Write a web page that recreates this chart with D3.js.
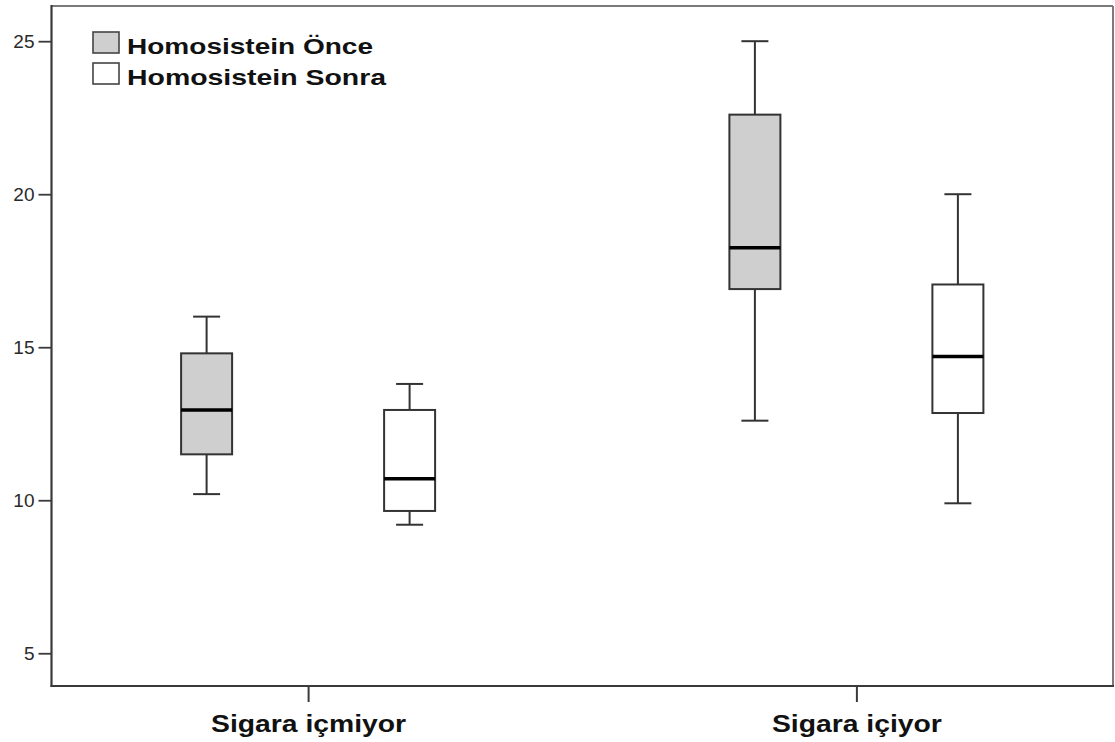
<!DOCTYPE html>
<html>
<head>
<meta charset="utf-8">
<script src="https://cdn.jsdelivr.net/npm/d3@7"></script>
<style>
  html, body { margin: 0; padding: 0; background: #fff; }
  svg { display: block; }
  text { font-family: "Liberation Sans", Arial, sans-serif; }
</style>
</head>
<body>
<svg id="chart" width="1115" height="742"></svg>
<script>
// Groups on the x axis
const categories = ["Sigara içmiyor", "Sigara içiyor"];
// Two measurements per group
const series = ["Homosistein Önce", "Homosistein Sonra"];
const seriesFill = ["#cfcfcf", "#ffffff"];
// Five-number summaries: [min, Q1, median, Q3, max]
const onceStats  = [[10.2, 11.5, 12.95, 14.8, 16.0], [12.6, 16.9, 18.25, 22.6, 25.0]];
const sonraStats = [[9.2, 9.65, 10.7, 12.95, 13.8], [9.9, 12.85, 14.7, 17.05, 20.0]];
const yTicks = [5, 10, 15, 20, 25];

(function draw() {
  const svg = d3.select("#chart");
  const pLeft = 51.5, pRight = 1113, pTop = 6, pBottom = 686;

  const y = d3.scaleLinear().domain([3.93, 26.15]).range([pBottom, pTop]);
  const x = d3.scalePoint().domain(categories).range([pLeft, pRight]).padding(0.468);
  const xs = d3.scalePoint().domain(series).range([-101.5, 101.5]);
  const boxW = 51, capW = 27;

  // Frame: top and right edges lighter
  svg.append("line").attr("x1", pLeft).attr("x2", pRight).attr("y1", pTop).attr("y2", pTop)
    .attr("stroke", "#7a7a7a").attr("stroke-width", 2);
  svg.append("line").attr("x1", pRight).attr("x2", pRight).attr("y1", pTop).attr("y2", pBottom)
    .attr("stroke", "#7a7a7a").attr("stroke-width", 2);

  // Y axis
  const yAxis = d3.axisLeft(y).tickValues(yTicks).tickSize(13).tickPadding(4).tickFormat(d3.format("d"));
  const gy = svg.append("g").attr("transform", `translate(${pLeft},0)`).call(yAxis);
  gy.select(".domain").remove();
  gy.append("line").attr("x1", 0).attr("x2", 0).attr("y1", pTop - 1).attr("y2", pBottom + 1)
    .attr("stroke", "#3a3a3a").attr("stroke-width", 2.2);
  gy.selectAll(".tick line").attr("stroke", "#3a3a3a").attr("stroke-width", 1.8);
  gy.selectAll(".tick text").attr("font-size", 19).attr("fill", "#2a2a2a")
    .attr("font-family", "'Liberation Sans', Arial, sans-serif");

  // X axis
  const labelLen = { "Sigara içmiyor": 195, "Sigara içiyor": 170 };
  const xAxis = d3.axisBottom(x).tickSize(16).tickPadding(6);
  const gx = svg.append("g").attr("transform", `translate(0,${pBottom})`).call(xAxis);
  gx.select(".domain").remove();
  gx.append("line").attr("x1", pLeft - 1).attr("x2", pRight + 1).attr("y1", 0).attr("y2", 0)
    .attr("stroke", "#3a3a3a").attr("stroke-width", 2.2);
  gx.selectAll(".tick line").attr("stroke", "#3a3a3a").attr("stroke-width", 2);
  gx.selectAll(".tick text").attr("font-size", 23).attr("font-weight", "bold").attr("fill", "#111")
    .attr("font-family", "'Liberation Sans', Arial, sans-serif")
    .attr("dy", "1.05em")
    .attr("textLength", d => labelLen[d]).attr("lengthAdjust", "spacingAndGlyphs");

  // Boxes
  const boxes = [];
  categories.forEach((c, i) => {
    boxes.push({ cat: c, ser: series[0], fill: seriesFill[0], s: onceStats[i] });
    boxes.push({ cat: c, ser: series[1], fill: seriesFill[1], s: sonraStats[i] });
  });

  const g = svg.append("g");
  const bx = g.selectAll("g.box").data(boxes).join("g").attr("class", "box")
    .attr("transform", d => `translate(${x(d.cat) + xs(d.ser)},0)`);

  // whiskers
  bx.append("line").attr("x1", 0).attr("x2", 0).attr("y1", d => y(d.s[4])).attr("y2", d => y(d.s[3]))
    .attr("stroke", "#333").attr("stroke-width", 2);
  bx.append("line").attr("x1", 0).attr("x2", 0).attr("y1", d => y(d.s[1])).attr("y2", d => y(d.s[0]))
    .attr("stroke", "#333").attr("stroke-width", 2);
  // caps
  bx.append("line").attr("x1", -capW / 2).attr("x2", capW / 2).attr("y1", d => y(d.s[4])).attr("y2", d => y(d.s[4]))
    .attr("stroke", "#333").attr("stroke-width", 2);
  bx.append("line").attr("x1", -capW / 2).attr("x2", capW / 2).attr("y1", d => y(d.s[0])).attr("y2", d => y(d.s[0]))
    .attr("stroke", "#333").attr("stroke-width", 2);
  // box
  bx.append("rect").attr("x", -boxW / 2).attr("width", boxW)
    .attr("y", d => y(d.s[3])).attr("height", d => y(d.s[1]) - y(d.s[3]))
    .attr("fill", d => d.fill).attr("stroke", "#333").attr("stroke-width", 2);
  // median
  bx.append("line").attr("x1", -boxW / 2).attr("x2", boxW / 2).attr("y1", d => y(d.s[2])).attr("y2", d => y(d.s[2]))
    .attr("stroke", "#000").attr("stroke-width", 3.5);

  // Legend
  const legend = svg.append("g").attr("transform", "translate(93,32)");
  const li = legend.selectAll("g").data(series).join("g")
    .attr("transform", (d, i) => `translate(0,${i * 31})`);
  li.append("rect").attr("width", 26).attr("height", 21)
    .attr("fill", (d, i) => seriesFill[i]).attr("stroke", "#444").attr("stroke-width", 1.6);
  li.append("text").attr("x", 34).attr("y", 21.5)
    .attr("font-size", 22).attr("font-weight", "bold").attr("fill", "#111")
    .attr("textLength", (d, i) => i === 0 ? 246 : 259).attr("lengthAdjust", "spacingAndGlyphs")
    .text(d => d);
})();
</script>
</body>
</html>
